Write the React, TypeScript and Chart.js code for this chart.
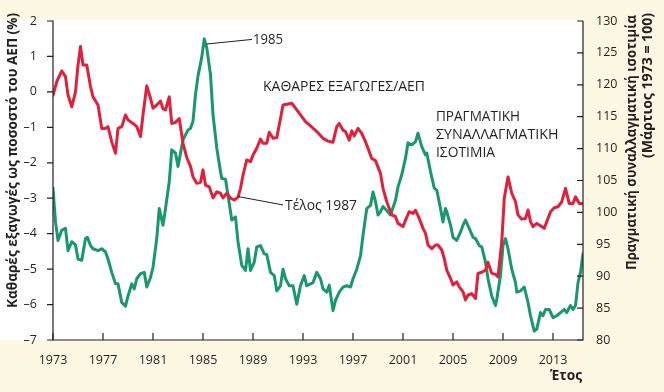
import React, { useEffect, useRef } from "react";
import { Chart, registerables } from "chart.js";

Chart.register(...registerables);

// Net exports as % of GDP (left axis)
const redYears = [1973.0,1973.3,1973.7,1974.0,1974.2,1974.5,1974.8,1975.0,1975.2,1975.4,1975.7,1976.0,1976.2,1976.6,1976.9,1977.2,1977.4,1977.7,1978.0,1978.2,1978.5,1978.8,1979.0,1979.4,1979.7,1980.0,1980.2,1980.5,1980.8,1981.0,1981.3,1981.6,1981.8,1982.0,1982.3,1982.5,1982.8,1983.1,1983.4,1983.7,1984.0,1984.2,1984.5,1984.8,1985.0,1985.2,1985.5,1985.8,1986.1,1986.4,1986.6,1986.9,1987.2,1987.5,1987.8,1988.0,1988.2,1988.5,1988.8,1989.0,1989.3,1989.6,1989.8,1990.1,1990.3,1990.6,1990.9,1991.2,1991.4,1991.7,1992.1,1992.4,1992.8,1993.2,1993.6,1994.1,1994.6,1995.0,1995.4,1995.7,1995.9,1996.2,1996.4,1996.7,1996.9,1997.1,1997.4,1997.7,1998.0,1998.2,1998.5,1998.8,1999.2,1999.4,1999.7,2000.1,2000.4,2000.6,2001.0,2001.2,2001.5,2001.8,2002.0,2002.3,2002.6,2002.8,2003.0,2003.3,2003.6,2003.8,2004.1,2004.3,2004.5,2004.8,2005.0,2005.3,2005.5,2005.8,2006.0,2006.2,2006.5,2006.8,2007.0,2007.3,2007.6,2007.8,2008.1,2008.4,2008.6,2008.9,2009.1,2009.4,2009.7,2010.0,2010.2,2010.5,2010.8,2011.0,2011.2,2011.4,2011.7,2012.0,2012.3,2012.5,2012.8,2013.1,2013.4,2013.7,2014.0,2014.3,2014.6,2014.8,2015.1,2015.4];
const redValues = [-0.1,0.29,0.59,0.43,-0.09,-0.42,0.0,0.76,1.28,0.76,0.76,0.15,-0.14,-0.37,-1.03,-1.03,-0.98,-1.41,-1.73,-1.03,-0.98,-0.65,-0.79,-0.89,-0.98,-1.26,-0.65,0.17,-0.18,-0.46,-0.37,-0.26,-0.48,-0.51,-0.14,-0.89,-0.86,-0.75,-1.45,-1.85,-2.1,-2.4,-2.58,-2.55,-2.2,-2.63,-2.68,-2.99,-2.82,-2.86,-2.99,-2.86,-3.0,-3.05,-2.97,-2.72,-2.35,-1.92,-1.97,-1.78,-1.59,-1.33,-1.45,-1.45,-1.14,-1.31,-1.29,-0.75,-0.37,-0.35,-0.32,-0.46,-0.65,-0.84,-0.96,-1.12,-1.31,-1.39,-1.42,-0.98,-0.89,-1.08,-1.12,-1.36,-1.1,-1.24,-1.03,-1.17,-1.41,-1.59,-1.88,-1.94,-2.3,-2.72,-3.1,-3.47,-3.52,-3.71,-3.8,-3.62,-3.38,-3.43,-3.34,-3.57,-3.85,-3.99,-4.32,-4.42,-4.32,-4.32,-4.46,-4.7,-5.03,-5.26,-5.45,-5.36,-5.5,-5.64,-5.87,-5.73,-5.69,-5.83,-5.12,-5.09,-5.03,-4.81,-5.12,-5.15,-5.22,-4.23,-3.0,-2.4,-2.86,-3.1,-3.47,-3.59,-3.57,-3.33,-3.66,-3.8,-3.71,-3.78,-3.85,-3.66,-3.38,-3.27,-3.24,-3.1,-2.72,-3.15,-3.15,-2.96,-3.15,-3.15];

// Real exchange rate index, March 1973 = 100 (right axis)
const greenYears = [1973.0,1973.2,1973.4,1973.7,1974.0,1974.2,1974.5,1974.8,1975.0,1975.3,1975.6,1975.75,1976.0,1976.2,1976.6,1976.9,1977.2,1977.4,1977.7,1978.0,1978.2,1978.5,1978.8,1979.0,1979.3,1979.5,1979.7,1980.0,1980.3,1980.5,1980.8,1981.0,1981.3,1981.5,1981.8,1982.0,1982.3,1982.5,1982.8,1983.0,1983.4,1983.8,1984.0,1984.2,1984.4,1984.6,1984.9,1985.1,1985.3,1985.6,1985.8,1986.1,1986.4,1986.5,1986.8,1987.0,1987.3,1987.6,1987.8,1988.1,1988.4,1988.6,1988.8,1989.1,1989.3,1989.6,1989.9,1990.1,1990.4,1990.7,1990.9,1991.2,1991.4,1991.6,1991.9,1992.2,1992.5,1992.8,1993.1,1993.3,1993.6,1993.8,1994.1,1994.4,1994.6,1994.9,1995.1,1995.4,1995.6,1995.9,1996.2,1996.5,1996.8,1997.0,1997.3,1997.6,1997.8,1998.1,1998.4,1998.6,1998.8,1999.0,1999.2,1999.4,1999.7,2000.0,2000.4,2000.6,2000.9,2001.2,2001.4,2001.7,2002.0,2002.2,2002.5,2002.8,2002.9,2003.2,2003.5,2003.7,2004.0,2004.2,2004.4,2004.5,2004.8,2005.0,2005.3,2005.6,2005.8,2006.0,2006.3,2006.6,2006.8,2007.1,2007.3,2007.6,2007.8,2008.1,2008.4,2008.5,2008.8,2009.0,2009.2,2009.4,2009.7,2010.0,2010.1,2010.4,2010.7,2011.0,2011.2,2011.5,2011.7,2012.0,2012.2,2012.4,2012.7,2013.0,2013.3,2013.6,2013.9,2014.1,2014.4,2014.6,2014.8,2015.0,2015.2,2015.4];
const greenValues = [103.8,98.5,95.6,97.2,97.5,94.0,95.4,94.9,92.7,92.5,95.9,96.1,94.8,94.3,94.0,94.3,93.8,92.7,90.6,88.8,88.8,85.9,85.3,86.9,88.8,88.0,89.6,90.4,90.6,88.3,89.8,91.4,95.9,100.6,98.0,100.6,104.8,109.8,109.3,107.2,111.4,112.9,113.2,114.3,118.5,121.4,124.3,127.2,125.8,121.6,115.3,110.1,106.4,105.3,105.2,102.7,98.8,99.3,95.4,91.7,90.9,94.3,90.9,92.2,94.6,94.8,93.5,93.4,90.6,90.1,87.7,88.5,91.1,89.6,88.5,88.5,85.6,88.5,90.1,88.5,88.8,89.0,90.6,89.6,88.0,87.5,88.6,84.6,86.2,87.5,88.3,88.5,88.3,89.6,91.1,93.2,96.4,100.6,101.1,103.2,101.7,99.6,100.1,100.9,100.3,99.6,101.9,104.0,105.9,108.5,110.9,110.6,111.1,112.4,110.3,109.0,109.3,106.4,103.8,103.5,100.6,98.5,100.6,100.1,98.0,96.1,95.6,96.9,98.0,98.8,97.5,96.1,95.9,94.8,94.6,92.2,89.6,86.9,85.4,86.4,90.1,94.8,95.9,94.3,91.1,89.0,87.5,87.7,88.3,85.9,83.8,81.4,81.7,84.3,83.8,84.8,84.8,83.5,83.8,84.3,84.8,84.3,85.4,84.8,85.4,89.0,90.6,93.5];

const xTicks = [1973, 1977, 1981, 1985, 1989, 1993, 1997, 2001, 2005, 2009, 2013];
const leftTicks = [2, 1, 0, -1, -2, -3, -4, -5, -6, -7];
const rightTicks = [130, 125, 120, 115, 110, 105, 100, 95, 90, 85, 80];

const RED = "#e2203c";
const GREEN = "#18986b";
const INK = "#231f20";
const CREAM = "#fdf8e4";

function fitText(ctx: CanvasRenderingContext2D, text: string, x: number, y: number, w: number, align: CanvasTextAlign) {
  const m = ctx.measureText(text).width;
  const s = w / m;
  ctx.save();
  ctx.translate(x, y);
  ctx.scale(s, 1);
  ctx.textAlign = align;
  ctx.textBaseline = "middle";
  ctx.fillText(text, 0, 0);
  ctx.restore();
}

function rotText(ctx: CanvasRenderingContext2D, text: string, cx: number, yStart: number, yEnd: number) {
  const len = yStart - yEnd;
  const m = ctx.measureText(text).width;
  ctx.save();
  ctx.translate(cx, yStart);
  ctx.rotate(-Math.PI / 2);
  ctx.scale(len / m, 1);
  ctx.textAlign = "left";
  ctx.textBaseline = "middle";
  ctx.fillText(text, 0, 0);
  ctx.restore();
}

const bgPlugin = {
  id: "bg",
  beforeDraw(chart: any) {
    const { ctx, chartArea } = chart;
    ctx.save();
    ctx.fillStyle = CREAM;
    ctx.fillRect(0, 0, chart.width, chart.height);
    ctx.fillStyle = "#ffffff";
    ctx.fillRect(0, chartArea.top - 1, chartArea.right, chartArea.bottom - chartArea.top + 1);
    ctx.restore();
  },
};

const decoPlugin = {
  id: "deco",
  afterDraw(chart: any) {
    const { ctx, chartArea, scales } = chart;
    const xs = scales.x, yl = scales.y, yr = scales.y1;
    const P = (yr0: number, v: number) => [xs.getPixelForValue(yr0), yl.getPixelForValue(v)];
    ctx.save();
    ctx.strokeStyle = INK;
    ctx.lineWidth = 1.2;
    ctx.beginPath();
    ctx.moveTo(chartArea.left, chartArea.top - 0.5);
    ctx.lineTo(chartArea.left, chartArea.bottom);
    ctx.lineTo(chartArea.right, chartArea.bottom);
    ctx.lineTo(chartArea.right, chartArea.top);
    ctx.stroke();
    ctx.beginPath();
    leftTicks.forEach((v) => {
      const y = yl.getPixelForValue(v);
      ctx.moveTo(chartArea.left - 6, y);
      ctx.lineTo(chartArea.left, y);
    });
    rightTicks.forEach((v) => {
      const y = yr.getPixelForValue(v);
      ctx.moveTo(chartArea.right - 6, y);
      ctx.lineTo(chartArea.right, y);
    });
    xTicks.forEach((v) => {
      const x = xs.getPixelForValue(v);
      ctx.moveTo(x, chartArea.bottom - 7);
      ctx.lineTo(x, chartArea.bottom);
    });
    ctx.stroke();

    // leader lines
    ctx.lineWidth = 1;
    ctx.beginPath();
    let a = P(1985.28, 1.35), b = P(1988.92, 1.48);
    ctx.moveTo(a[0], a[1]); ctx.lineTo(b[0], b[1]);
    a = P(1987.76, -2.95); b = P(1991.4, -3.19);
    ctx.moveTo(a[0], a[1]); ctx.lineTo(b[0], b[1]);
    ctx.stroke();

    // annotation texts
    ctx.fillStyle = INK;
    ctx.font = "14.5px 'Open Sans'";
    let p = P(1989.0, 1.46); fitText(ctx, "1985", p[0], p[1], 30, "left");
    p = P(1989.8, 0.14); fitText(ctx, "ΚΑΘΑΡΕΣ ΕΞΑΓΩΓΕΣ/ΑΕΠ", p[0], p[1], 162, "left");
    p = P(2003.64, -0.70); fitText(ctx, "ΠΡΑΓΜΑΤΙΚΗ", p[0], p[1], 84, "left");
    p = P(2003.64, -1.22); fitText(ctx, "ΣΥΝΑΛΛΑΓΜΑΤΙΚΗ", p[0], p[1], 122.5, "left");
    p = P(2003.64, -1.72); fitText(ctx, "ΙΣΟΤΙΜΙΑ", p[0], p[1], 59, "left");
    p = P(1991.56, -3.22); fitText(ctx, "Τέλος 1987", p[0], p[1], 72, "left");

    // axis titles
    ctx.font = "bold 14px 'Open Sans'";
    rotText(ctx, "Καθαρές εξαγωγές ως ποσοστό του ΑΕΠ (%)", 13, 308, 13);
    rotText(ctx, "Πραγματική συναλλαγματική ισοτιμία", 632, 270, 15);
    rotText(ctx, "(Μάρτιος 1973 = 100)", 648, 158, 13);
    ctx.font = "bold 15px 'Open Sans'";
    fitText(ctx, "Έτος", 582, 376, 32, "right");
    ctx.restore();
  },
};

export default function App() {
  const ref = useRef<HTMLCanvasElement | null>(null);
  useEffect(() => {
    if (!ref.current) return;
    const tickFont = { family: "'Open Sans'", size: 12.5 };
    const chart = new Chart(ref.current, {
      type: "line",
      data: {
        datasets: [
          {
            label: "Καθαρές εξαγωγές/ΑΕΠ",
            data: redYears.map((x, i) => ({ x, y: redValues[i] })),
            borderColor: RED,
            borderWidth: 3,
            pointRadius: 0,
            tension: 0,
            yAxisID: "y",
            borderJoinStyle: "round",
            borderCapStyle: "round",
          },
          {
            label: "Πραγματική συναλλαγματική ισοτιμία",
            data: greenYears.map((x, i) => ({ x, y: greenValues[i] })),
            borderColor: GREEN,
            borderWidth: 3,
            pointRadius: 0,
            tension: 0,
            yAxisID: "y1",
            borderJoinStyle: "round",
            borderCapStyle: "round",
          },
        ],
      },
      options: {
        responsive: false,
        animation: false,
        devicePixelRatio: 1,
        layout: { padding: { top: 21, left: 0, right: 0, bottom: 0 } },
        plugins: { legend: { display: false }, tooltip: { enabled: false } },
        scales: {
          x: {
            type: "linear",
            min: 1973,
            max: 2015.4,
            grid: { display: false },
            border: { display: false },
            afterBuildTicks: (s: any) => { s.ticks = xTicks.map((v) => ({ value: v })); },
            afterFit: (s: any) => { s.height = 52; },
            ticks: { font: tickFont, color: INK, padding: 5, maxRotation: 0, autoSkip: false, callback: (v: any) => String(v) },
          },
          y: {
            position: "left",
            min: -7,
            max: 2,
            grid: { display: false },
            border: { display: false },
            afterBuildTicks: (s: any) => { s.ticks = leftTicks.map((v) => ({ value: v })); },
            afterFit: (s: any) => { s.width = 53; },
            ticks: { font: tickFont, color: INK, padding: 8, callback: (v: any) => (v < 0 ? "–" + Math.abs(v) : String(v)) },
          },
          y1: {
            position: "right",
            min: 80,
            max: 130,
            grid: { display: false },
            border: { display: false },
            afterBuildTicks: (s: any) => { s.ticks = rightTicks.map((v) => ({ value: v })); },
            afterFit: (s: any) => { s.width = 81; },
            ticks: { font: tickFont, color: INK, padding: 5, callback: (v: any) => String(v) },
          },
        },
      },
      plugins: [bgPlugin, decoPlugin],
    } as any);
    return () => chart.destroy();
  }, []);
  return (
    <div style={{ position: "fixed", left: 0, top: 0, width: 664, height: 392 }}>
      <canvas ref={ref} width={664} height={392} style={{ width: 664, height: 392 }} />
    </div>
  );
}
